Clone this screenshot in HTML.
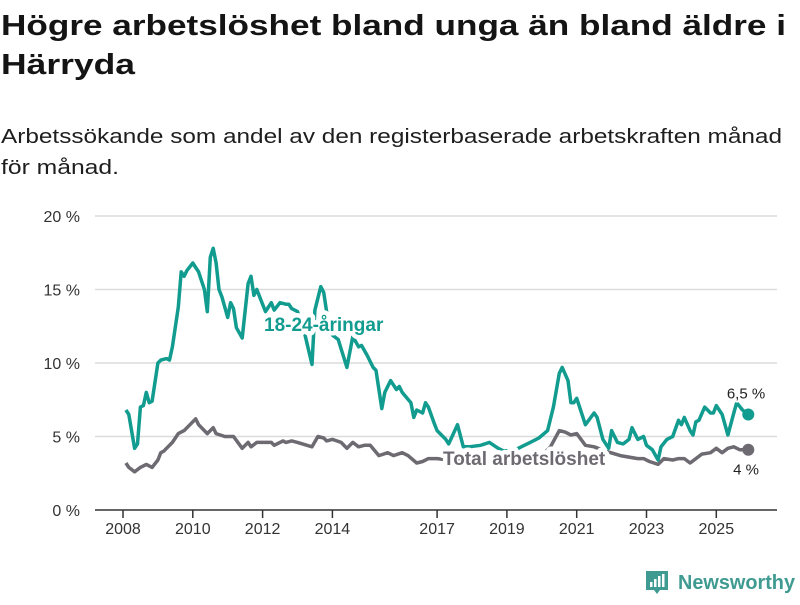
<!DOCTYPE html>
<html><head><meta charset="utf-8"><style>
body{margin:0;background:#fff;}
svg text{font-family:"Liberation Sans",sans-serif;}
</style></head><body>
<svg id="chart" width="800" height="600" viewBox="0 0 800 600" xmlns="http://www.w3.org/2000/svg">
<rect width="800" height="600" fill="#fff"/>
<text x="1" y="35" font-size="29" font-weight="bold" fill="#141414" textLength="785" lengthAdjust="spacingAndGlyphs">Högre arbetslöshet bland unga än bland äldre i</text>
<text x="1" y="74" font-size="29" font-weight="bold" fill="#141414" textLength="134" lengthAdjust="spacingAndGlyphs">Härryda</text>
<text x="1" y="143" font-size="20" fill="#1e1e1e" textLength="781" lengthAdjust="spacingAndGlyphs">Arbetssökande som andel av den registerbaserade arbetskraften månad</text>
<text x="1" y="174" font-size="20" fill="#1e1e1e" textLength="118" lengthAdjust="spacingAndGlyphs">för månad.</text>
<g id="grid"></g><g id="axes"></g><g id="series"></g><g id="labels"></g>
<g>
<path d="M646 571 h22 v19 h-8 l-3 4 l-3 -4 h-8z" fill="#3f9b91"/>
<rect x="650" y="582" width="2.5" height="5" fill="#fff"/><rect x="654" y="579" width="2.5" height="8" fill="#fff"/><rect x="658" y="576" width="2.5" height="11" fill="#fff"/><rect x="662" y="574" width="2.5" height="13" fill="#fff"/>
<text x="678" y="589" font-size="20" font-weight="bold" fill="#3f9b91" textLength="117" lengthAdjust="spacingAndGlyphs">Newsworthy</text>
</g>
</svg>
<script>
const yTicks=[0,5,10,15,20];
const yTickLabels=["0 %","5 %","10 %","15 %","20 %"];
const xTickYears=[2008,2010,2012,2014,2017,2019,2021,2023,2025];
// months since Jan 2008
const youthMonths=[1,2,4,5,6,7,8,9,10,12,13,15,16,17,19,20,21,22,24,25,26,28,29,30,31,32,33,34,36,37,38,39,41,43,44,45,46,49,51,52,54,56,57,58,60,62,65,66,68,69,70,71,72,74,77,79,81,82,84,86,87,89,90,92,94,95,96,99,100,101,103,104,105,107,108,111,112,115,117,119,123,126,129,131,135,138,140,143,146,148,150,151,153,154,155,156,159,162,163,165,167,168,170,172,174,175,177,179,180,182,184,185,187,189,191,192,193,195,196,197,198,200,202,203,204,206,208,210,211,213,215];
const youthValues=[6.8,6.5,4.2,4.5,7.0,7.1,8.0,7.3,7.4,10.0,10.2,10.3,10.2,11.1,13.8,16.2,15.9,16.3,16.8,16.5,16.2,15.0,13.5,17.2,17.8,16.8,15.0,14.5,13.1,14.1,13.7,12.4,11.7,15.4,15.9,14.6,15.0,13.5,14.1,13.6,14.1,14.0,14.0,13.7,13.5,12.4,9.9,13.6,15.2,14.8,13.5,12.5,11.9,11.6,9.7,11.8,11.1,11.2,10.5,9.7,9.5,6.9,8.0,8.8,8.2,8.4,8.0,7.3,6.3,6.8,6.6,7.3,7.0,5.9,5.4,4.8,4.5,5.8,4.3,4.3,4.4,4.6,4.2,4.0,4.1,4.4,4.6,4.9,5.4,7.0,9.3,9.7,8.8,7.3,7.3,7.6,5.8,6.6,6.3,4.8,4.2,5.4,4.6,4.5,4.8,5.6,4.8,5.0,4.4,4.1,3.4,4.3,4.8,5.0,6.1,5.8,6.3,5.4,5.1,6.0,6.1,7.0,6.6,6.6,7.1,6.5,5.1,6.6,7.3,6.8,6.5];
const totalMonths=[1,2,4,6,8,10,12,13,14,17,19,21,22,25,26,29,31,32,35,38,41,43,44,46,51,52,55,56,58,60,65,67,69,70,72,75,77,79,81,83,85,88,91,93,96,98,101,103,105,108,112,119,126,133,140,145,147,150,152,154,156,159,162,166,171,177,179,181,184,186,189,191,193,195,197,199,202,204,206,208,210,212,215];
const totalValues=[3.2,2.9,2.6,2.9,3.1,2.9,3.4,3.9,4.0,4.6,5.2,5.4,5.6,6.2,5.8,5.2,5.6,5.2,5.0,5.0,4.2,4.6,4.3,4.6,4.6,4.4,4.7,4.6,4.7,4.6,4.3,5.0,4.9,4.7,4.8,4.6,4.2,4.6,4.3,4.4,4.4,3.7,3.9,3.7,3.9,3.7,3.2,3.3,3.5,3.5,3.4,3.3,3.4,3.3,3.5,3.9,4.3,5.4,5.3,5.1,5.2,4.4,4.3,4.0,3.7,3.5,3.5,3.3,3.1,3.5,3.4,3.5,3.5,3.2,3.5,3.8,3.9,4.2,3.9,4.2,4.3,4.1,4.1];
const NS="http://www.w3.org/2000/svg";
const X0=123, PXM=34.9/12, Y0=510, PXV=14.7;
function xScale(m){return X0+m*PXM;}
function yScale(v){return Y0-v*PXV;}
function mk(tag,attrs,parent){const e=document.createElementNS(NS,tag);for(const k in attrs)e.setAttribute(k,attrs[k]);parent.appendChild(e);return e;}
const grid=document.getElementById('grid'),axes=document.getElementById('axes'),series=document.getElementById('series'),labels=document.getElementById('labels');
yTicks.forEach((t,i)=>{
  if(t>0){const l=mk('line',{x1:95,x2:777,y1:yScale(t),y2:yScale(t),stroke:'#dcdcdc','stroke-width':1.5},grid);
  
  }
  const tx=mk('text',{x:80,y:yScale(t)+6,'text-anchor':'end','font-size':16,fill:'#333'},axes);
  tx.textContent=yTickLabels[i];
  
  
});
const ax=mk('line',{x1:95,x2:777,y1:Y0,y2:Y0,stroke:'#333','stroke-width':1.5},axes);


xTickYears.forEach(yr=>{
  const x=xScale((yr-2008)*12);
  const tk=mk('line',{x1:x,x2:x,y1:Y0,y2:Y0+8,stroke:'#333','stroke-width':1.5},axes);
  
  
  const tx=mk('text',{x:x,y:534,'text-anchor':'middle','font-size':16,fill:'#333'},axes);
  tx.textContent=yr;
  
  
});
function draw(ms,vs,color,name){
  const d=ms.map((m,i)=>(i?'L':'M')+xScale(m).toFixed(1)+' '+yScale(vs[i]).toFixed(1)).join(' ');
  const p=mk('path',{d:d,fill:'none',stroke:color,'stroke-width':3.5,'stroke-linejoin':'round'},series);
  
  
  const n=ms.length-1;
  const c=mk('circle',{cx:xScale(ms[n]),cy:yScale(vs[n]),r:6,fill:color},series);
  
  
}
draw(totalMonths,totalValues,'#6d6a72','total');
draw(youthMonths,youthValues,'#119c8f','youth');
function lab(txt,x,y,size,color,bold,name,anchor){
  const t=mk('text',{x:x,y:y,'font-size':size,fill:color,'font-weight':bold?'bold':'normal',stroke:'#fff','stroke-width':bold?9:4,'paint-order':'stroke','stroke-linejoin':'round','text-anchor':anchor||'start'},labels);
  t.textContent=txt;
  
  
}
lab('18-24-åringar',264,331,19,'#119c8f',true,'youth-series-label');
lab('Total arbetslöshet',443,465,19,'#6d6a72',true,'total-series-label');
const lastY=youthValues[youthValues.length-1], lastT=totalValues[totalValues.length-1];
lab('6,5 %',746,yScale(lastY)-16,15,'#222',false,'youth-end-value','middle');
lab('4 %',746,yScale(lastT)+25,15,'#222',false,'total-end-value','middle');
</script>
</body></html>
